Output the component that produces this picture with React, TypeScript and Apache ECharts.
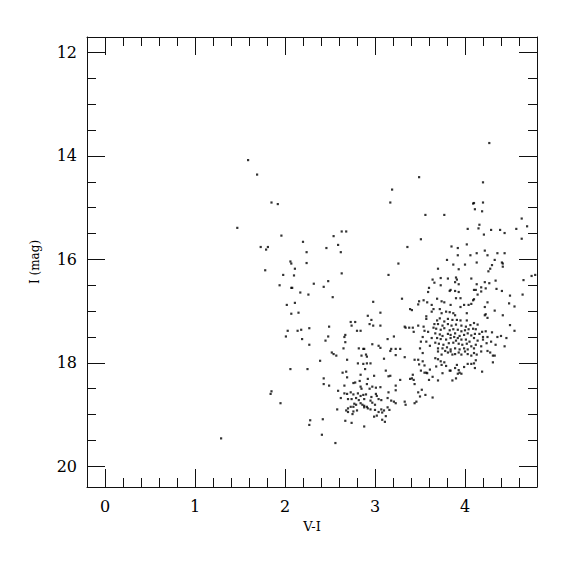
import React, { useEffect, useRef } from "react";
import * as echarts from "echarts";

// Axis extents and labels
const xRange = [-0.2, 4.8];
const yRange = [11.7, 20.4];
const xName = "V-I";
const yName = "I (mag)";

// Bright / blue side branch  [V-I, I]
const leftBranch = [
  [1.59, 14.08], [1.69, 14.36], [1.85, 14.9], [1.92, 14.93], [1.47, 15.39], [1.96, 15.54], [2.2, 15.66],
  [1.73, 15.76], [1.81, 15.76], [1.79, 15.81], [2.24, 15.86], [2.06, 16.04], [2.07, 16.08], [2.24, 16.07],
  [2.11, 16.18], [1.78, 16.21], [1.98, 16.3], [2.1, 16.31], [1.94, 16.5], [2.32, 16.47], [2.07, 16.55],
  [2.08, 16.55], [2.17, 16.64], [2.26, 16.68], [2.43, 16.53], [2.11, 16.84], [2.02, 16.88], [2.15, 17.03],
  [2.07, 17.05], [2.27, 17.33], [2.03, 17.38], [2.14, 17.38], [2.18, 17.36], [2.01, 17.49], [2.19, 17.54],
  [2.27, 17.65], [2.39, 17.96], [2.06, 18.12], [2.25, 18.12], [2.43, 18.3], [2.43, 18.41], [1.85, 18.55],
  [1.84, 18.6], [1.95, 18.78], [2.28, 19.11], [2.42, 19.09], [2.27, 19.2], [2.41, 19.39], [1.29, 19.46],
  [2.56, 19.55],
];

// Bright red giants
const upperGiants = [
  [3.49, 14.41], [3.19, 14.65], [3.17, 14.9], [3.56, 15.14], [2.63, 15.46], [2.68, 15.46], [2.54, 15.55],
  [2.59, 15.72], [2.46, 15.78], [3.51, 15.61], [3.36, 15.76], [4.27, 13.75], [4.2, 14.51], [4.09, 14.92],
  [4.1, 14.91], [4.2, 14.9], [4.11, 15.03], [4.19, 15.07], [3.77, 15.14], [4.63, 15.21], [4.16, 15.33],
  [4.03, 15.41], [4.15, 15.4], [4.29, 15.43], [4.39, 15.43], [4.44, 15.49], [4.57, 15.41], [4.69, 15.36],
  [4.21, 15.52], [4.63, 15.6], [3.85, 15.75], [3.92, 15.78], [4.02, 15.71],
];

// Intermediate colour stars
const midBranch = [
  [2.62, 15.86], [3.26, 16.08], [2.63, 16.27], [3.15, 16.3], [2.48, 16.42], [3.64, 16.39], [3.66, 16.45],
  [3.6, 16.55], [3.59, 16.63], [2.53, 16.73], [2.98, 16.82], [3.3, 16.76], [3.49, 16.81], [3.54, 16.79],
  [3.48, 16.87], [3.58, 16.83], [3.63, 16.88], [3.39, 16.96], [3.41, 16.98], [3.06, 17.03], [3.65, 16.96],
  [3.63, 17.01], [2.92, 17.09], [3.57, 17.1], [3.57, 17.15], [2.96, 17.17], [2.73, 17.21], [2.78, 17.21],
  [2.74, 17.28], [2.94, 17.25], [2.98, 17.28], [3.06, 17.28], [3.33, 17.3], [3.34, 17.32], [3.38, 17.32],
  [3.42, 17.32], [3.48, 17.28], [3.54, 17.3], [2.49, 17.3], [2.8, 17.38], [2.84, 17.38], [3.43, 17.4],
  [2.67, 17.46], [2.66, 17.5], [2.48, 17.49], [3.21, 17.49], [3.14, 17.54], [2.45, 17.57], [2.67, 17.6],
  [2.97, 17.64], [3.04, 17.67], [3.06, 17.71], [2.82, 17.72], [2.87, 17.73], [2.88, 17.73], [2.65, 17.72],
  [3.18, 17.73], [3.23, 17.73], [3.28, 17.73], [3.5, 17.72], [3.53, 17.5], [3.57, 17.59], [3.63, 17.52],
  [3.59, 17.4], [3.65, 17.32], [3.51, 17.59], [3.61, 17.67], [3.55, 17.38],
];

// Faint sequence
const lowerSequence = [
  [2.52, 17.8], [2.54, 17.83], [2.57, 17.86], [2.49, 18.44], [2.69, 17.94], [2.85, 17.86], [2.9, 17.84],
  [2.91, 17.88], [2.81, 18.01], [2.87, 18.02], [2.91, 18.01], [2.95, 18.01], [2.89, 18.12], [3.1, 17.92],
  [3.17, 17.77], [3.23, 17.85], [3.33, 17.89], [3.53, 17.81], [3.44, 17.94], [3.48, 17.94], [3.53, 17.97],
  [3.49, 18.03], [3.55, 18.05], [2.64, 18.19], [2.68, 18.17], [2.69, 18.28], [2.84, 18.23], [2.99, 18.25],
  [3.12, 18.15], [3.17, 18.25], [3.15, 18.26], [2.92, 18.31], [2.76, 18.39], [2.78, 18.38], [2.83, 18.35],
  [3.28, 18.33], [3.42, 18.23], [3.41, 18.3], [3.43, 18.33], [3.39, 18.31], [3.51, 18.15], [3.55, 18.19],
  [3.57, 18.19], [3.58, 18.2], [3.61, 18.13], [3.64, 18.27], [3.6, 18.33], [2.66, 18.44], [2.91, 18.41],
  [2.84, 18.46], [2.85, 18.5], [2.97, 18.46], [3.01, 18.48], [3.06, 18.47], [2.94, 18.5], [3.23, 18.44],
  [3.44, 18.41], [2.59, 18.54], [2.66, 18.59], [2.69, 18.6], [2.73, 18.57], [2.76, 18.61], [2.81, 18.59],
  [2.84, 18.64], [2.87, 18.62], [2.9, 18.61], [3.01, 18.6], [3.02, 18.64], [3.15, 18.57], [3.23, 18.53],
  [3.48, 18.57], [3.52, 18.52], [3.5, 18.65], [3.56, 18.62], [3.64, 18.67], [2.62, 18.68], [2.7, 18.7],
  [2.74, 18.7], [2.79, 18.68], [2.82, 18.72], [2.88, 18.7], [2.95, 18.73], [2.96, 18.66], [3.04, 18.7],
  [3.07, 18.72], [3.14, 18.68], [3.18, 18.73], [3.21, 18.75], [3.23, 18.78], [3.33, 18.75], [3.34, 18.81],
  [3.44, 18.78], [3.46, 18.75], [2.77, 18.79], [2.76, 18.85], [2.79, 18.81], [2.84, 18.78], [2.86, 18.81],
  [2.88, 18.83], [2.91, 18.85], [2.97, 18.77], [3.0, 18.81], [2.73, 18.85], [2.7, 18.88], [2.58, 18.9],
  [2.68, 18.92], [2.7, 18.95], [2.76, 18.94], [2.8, 18.92], [2.88, 18.86], [2.92, 18.88], [2.95, 18.9],
  [3.0, 18.91], [3.07, 18.9], [3.1, 18.92], [3.14, 18.86], [3.16, 18.91], [3.04, 18.95], [3.08, 18.96],
  [2.75, 18.99], [2.99, 19.04], [3.02, 19.02], [3.12, 19.03], [2.67, 19.12], [2.74, 19.16], [3.08, 19.1],
  [3.11, 19.14], [2.88, 19.23],
];

// Red clump region, upper part
const clumpUpper = [
  [3.92, 15.92], [4.06, 15.92], [4.13, 15.88], [4.22, 15.83], [4.25, 15.92], [4.36, 15.88], [4.44, 15.88],
  [3.8, 16.01], [4.33, 16.01], [4.13, 16.06], [4.41, 16.06], [4.42, 16.08], [3.87, 16.1], [4.0, 16.1],
  [4.3, 16.11], [4.42, 16.14], [3.7, 16.18], [3.93, 16.19], [4.28, 16.18], [4.26, 16.23], [4.78, 16.3],
  [4.74, 16.32], [4.65, 16.4], [3.73, 16.36], [3.81, 16.37], [3.9, 16.35], [3.91, 16.39], [3.89, 16.44],
  [4.07, 16.37], [4.22, 16.44], [4.34, 16.41], [3.73, 16.5], [3.93, 16.48], [4.13, 16.48], [4.27, 16.46],
  [4.18, 16.54], [4.23, 16.56], [4.35, 16.57], [4.1, 16.59], [4.12, 16.59], [3.83, 16.61], [3.84, 16.59],
  [3.89, 16.61], [3.93, 16.63], [4.41, 16.61], [4.18, 16.62], [4.14, 16.68], [4.5, 16.7], [4.64, 16.68],
  [3.69, 16.76], [3.9, 16.75], [3.95, 16.75], [4.1, 16.77], [4.09, 16.79], [4.25, 16.83], [3.74, 16.81],
  [3.77, 16.83], [4.07, 16.86], [4.04, 16.88], [3.99, 16.88], [4.49, 16.85], [3.95, 16.92], [3.84, 16.88],
  [4.22, 16.92], [4.55, 16.91], [4.33, 16.99], [3.72, 16.96], [4.23, 17.06], [4.25, 17.13], [4.22, 17.08],
  [4.42, 17.08], [3.74, 17.04], [3.79, 17.01], [3.83, 17.02], [3.87, 17.04], [4.02, 17.04], [3.89, 17.08],
  [4.5, 17.27], [4.55, 17.38],
];

// Red clump core
const clumpCore = [
  [3.69, 17.18], [3.72, 17.14], [3.77, 17.2], [3.81, 17.15], [3.86, 17.17], [3.91, 17.17], [3.95, 17.18],
  [4.02, 17.18], [3.66, 17.25], [3.7, 17.25], [3.75, 17.28], [3.81, 17.25], [3.85, 17.28], [3.9, 17.26],
  [3.96, 17.28], [4.01, 17.3], [4.06, 17.27], [4.1, 17.23], [4.14, 17.26], [4.19, 17.4], [4.23, 17.39],
  [4.3, 17.41], [3.68, 17.34], [3.73, 17.36], [3.77, 17.33], [3.83, 17.37], [3.87, 17.35], [3.92, 17.36],
  [3.96, 17.39], [4.0, 17.37], [4.04, 17.35], [4.09, 17.34], [4.12, 17.35], [3.67, 17.43], [3.72, 17.45],
  [3.75, 17.48], [3.81, 17.44], [3.84, 17.46], [3.89, 17.43], [3.94, 17.48], [3.99, 17.46], [4.03, 17.43],
  [4.07, 17.47], [4.11, 17.44], [4.16, 17.44], [4.2, 17.5], [4.25, 17.5], [4.36, 17.5], [4.4, 17.48],
  [4.46, 17.52], [3.69, 17.52], [3.73, 17.54], [3.79, 17.55], [3.84, 17.52], [3.88, 17.5], [3.92, 17.52],
  [3.96, 17.55], [4.01, 17.55], [4.05, 17.59], [4.1, 17.52], [4.14, 17.57], [4.2, 17.55], [4.24, 17.62],
  [4.29, 17.59], [4.34, 17.65], [3.67, 17.61], [3.71, 17.63], [3.76, 17.65], [3.82, 17.62], [3.87, 17.61],
  [3.9, 17.57], [3.93, 17.63], [3.97, 17.65], [4.02, 17.63], [4.07, 17.68], [4.12, 17.65], [4.18, 17.68],
  [4.44, 17.68], [3.7, 17.72], [3.75, 17.72], [3.8, 17.7], [3.84, 17.74], [3.89, 17.72], [3.94, 17.74],
  [3.99, 17.72], [4.03, 17.74], [4.1, 17.72],
];

// Red clump region, lower part
const clumpLower = [
  [3.7, 17.78], [3.74, 17.84], [3.78, 17.77], [3.81, 17.8], [3.84, 17.78], [3.86, 17.84], [3.89, 17.83],
  [3.93, 17.8], [3.96, 17.84], [4.0, 17.78], [4.03, 17.83], [4.07, 17.86], [4.1, 17.81], [4.13, 17.84],
  [4.18, 17.78], [4.25, 17.77], [4.28, 17.8], [4.31, 17.86], [4.33, 17.86], [3.67, 17.91], [3.7, 17.93],
  [3.73, 17.97], [3.77, 17.99], [3.74, 18.04], [3.79, 18.06], [3.68, 18.07], [3.83, 18.15], [3.84, 18.15],
  [3.89, 18.1], [3.91, 18.04], [3.93, 18.14], [3.94, 18.19], [3.96, 18.21], [3.92, 18.21], [3.99, 18.08],
  [4.03, 18.02], [4.07, 18.02], [4.1, 18.01], [4.12, 17.95], [4.11, 18.1], [4.19, 18.17], [4.31, 17.99],
  [3.75, 18.2], [3.7, 18.34], [3.86, 18.34], [3.9, 18.3],
];

const allStars = [
  ...leftBranch, ...upperGiants, ...midBranch, ...lowerSequence,
  ...clumpUpper, ...clumpCore, ...clumpLower,
];

const FONT = "DejaVu Serif";
const INK = "#111";

function makeX(position: "bottom" | "top", labels: boolean) {
  return {
    type: "value",
    min: xRange[0],
    max: xRange[1],
    position,
    splitNumber: 5,
    splitLine: { show: false },
    axisLine: { onZero: false, lineStyle: { color: INK, width: 1 } },
    axisTick: { show: true, inside: true, length: 18, lineStyle: { color: INK, width: 1 } },
    minorTick: { show: true, splitNumber: 5, length: 9, lineStyle: { color: INK, width: 1 } },
    axisLabel: {
      show: labels,
      color: "#000",
      fontFamily: FONT,
      fontSize: 16,
      margin: 11,
      showMinLabel: false,
      showMaxLabel: false,
    },
    name: labels ? xName : "",
    nameLocation: "middle",
    nameGap: 33,
    nameTextStyle: { color: "#000", fontFamily: FONT, fontSize: 13 },
  };
}

function makeY(position: "left" | "right", labels: boolean) {
  return {
    type: "value",
    min: yRange[0],
    max: yRange[1],
    inverse: true,
    position,
    splitNumber: 5,
    splitLine: { show: false },
    axisLine: { onZero: false, lineStyle: { color: INK, width: 1 } },
    axisTick: { show: true, inside: true, length: 18, lineStyle: { color: INK, width: 1 } },
    minorTick: { show: true, splitNumber: 4, length: 9, lineStyle: { color: INK, width: 1 } },
    axisLabel: {
      show: labels,
      color: "#000",
      fontFamily: FONT,
      fontSize: 16,
      margin: 10,
      showMinLabel: false,
      showMaxLabel: false,
    },
    name: labels ? yName : "",
    nameLocation: "middle",
    nameGap: 46,
    nameRotate: 90,
    nameTextStyle: { color: "#000", fontFamily: FONT, fontSize: 12 },
  };
}

export default function App() {
  const ref = useRef<HTMLDivElement>(null);
  useEffect(() => {
    if (!ref.current) return;
    const chart = echarts.init(ref.current, null, { renderer: "svg" });
    chart.setOption({
      animation: false,
      backgroundColor: "#fff",
      grid: { left: 87, top: 37, width: 450, height: 450, outerBoundsMode: "none" },
      xAxis: [makeX("bottom", true), makeX("top", false)],
      yAxis: [makeY("left", true), makeY("right", false)],
      series: [
        {
          type: "scatter",
          xAxisIndex: 0,
          yAxisIndex: 0,
          data: allStars,
          symbol: "rect",
          symbolSize: 2.2,
          itemStyle: { color: "#000" },
          silent: true,
        },
      ],
    });
    return () => chart.dispose();
  }, []);
  return (
    <div
      ref={ref}
      style={{ position: "absolute", left: 0, top: 0, width: 575, height: 575, background: "#fff" }}
    />
  );
}
